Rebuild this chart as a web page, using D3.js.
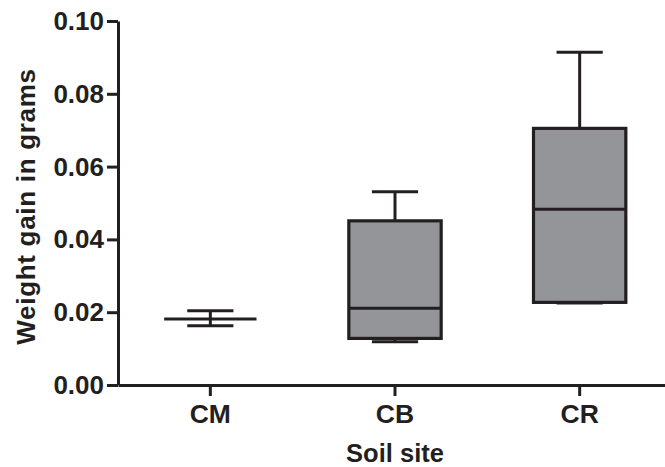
<!DOCTYPE html>
<html>
<head>
<meta charset="utf-8">
<script src="https://cdn.jsdelivr.net/npm/d3@7"></script>
<style>
  html, body { margin: 0; padding: 0; background: #fff; }
  svg { display: block; }
  text { font-family: "Liberation Sans", Arial, Helvetica, sans-serif; font-weight: bold; fill: #231f20; }
</style>
</head>
<body>
<svg id="chart" width="665" height="467"></svg>
<script>
// Weight gain per soil site (grams), five-number summaries
const sites   = ["CM", "CB", "CR"];
const mins    = [0.0163, 0.0119, 0.0225];
const q1s     = [0.0181, 0.0128, 0.0227];
const medians = [0.0181, 0.0211, 0.0483];
const q3s     = [0.0181, 0.0451, 0.0705];
const maxs    = [0.0204, 0.0531, 0.0914];
const yTicks  = [0.00, 0.02, 0.04, 0.06, 0.08, 0.10];

const ink = "#231f20";
const boxFill = "#939598";

const svg = d3.select("#chart");

const x = d3.scaleBand()
  .domain(sites)
  .range([118, 672])
  .paddingInner(0.5)
  .paddingOuter(0.25);

const y = d3.scaleLinear()
  .domain([0, 0.10])
  .range([385, 21]);

// y axis
const yAxis = svg.append("g")
  .attr("transform", "translate(118,0)")
  .call(d3.axisLeft(y).tickValues(yTicks).tickFormat(d3.format(".2f")).tickSize(11).tickSizeOuter(0).tickPadding(3));
yAxis.select(".domain").attr("stroke", ink).attr("stroke-width", 3);
yAxis.selectAll(".tick line").attr("stroke", ink).attr("stroke-width", 3);
yAxis.selectAll(".tick text")
  .attr("font-size", 26).attr("font-family", null).attr("fill", ink)
  .attr("dy", "0.33em");

// x axis
const xAxis = svg.append("g")
  .attr("transform", "translate(0,385)")
  .call(d3.axisBottom(x).tickSize(11).tickSizeOuter(0).tickPadding(8));
xAxis.select(".domain").attr("stroke", ink).attr("stroke-width", 3);
xAxis.selectAll(".tick line").attr("stroke", ink).attr("stroke-width", 3);
xAxis.selectAll(".tick text")
  .attr("font-size", 26.5).attr("font-family", null).attr("fill", ink)
  .attr("dy", "0.71em");

// boxes
const bw = x.bandwidth();
const capW = bw / 2;
const groups = svg.append("g").selectAll("g")
  .data(sites.map((s, i) => ({ s, min: mins[i], q1: q1s[i], med: medians[i], q3: q3s[i], max: maxs[i] })))
  .join("g")
  .attr("transform", d => `translate(${x(d.s) + bw / 2},0)`);

// whiskers
groups.append("line")
  .attr("x1", 0).attr("x2", 0)
  .attr("y1", d => y(d.max)).attr("y2", d => y(d.q3))
  .attr("stroke", ink).attr("stroke-width", 3);
groups.append("line")
  .attr("x1", 0).attr("x2", 0)
  .attr("y1", d => y(d.min)).attr("y2", d => y(d.q1))
  .attr("stroke", ink).attr("stroke-width", 3);
groups.append("line")
  .attr("x1", -capW / 2).attr("x2", capW / 2)
  .attr("y1", d => y(d.max)).attr("y2", d => y(d.max))
  .attr("stroke", ink).attr("stroke-width", 3);
groups.append("line")
  .attr("x1", -capW / 2).attr("x2", capW / 2)
  .attr("y1", d => y(d.min)).attr("y2", d => y(d.min))
  .attr("stroke", ink).attr("stroke-width", 3);

// box body
groups.append("rect")
  .attr("x", -bw / 2).attr("width", bw)
  .attr("y", d => y(d.q3)).attr("height", d => y(d.q1) - y(d.q3))
  .attr("fill", boxFill).attr("stroke", ink).attr("stroke-width", 3.2);

// median
groups.append("line")
  .attr("x1", -bw / 2).attr("x2", bw / 2)
  .attr("y1", d => y(d.med)).attr("y2", d => y(d.med))
  .attr("stroke", ink).attr("stroke-width", 3);

// axis titles
svg.append("text")
  .attr("x", 395).attr("y", 461.5)
  .attr("text-anchor", "middle").attr("font-size", 25.5)
  .text("Soil site");

svg.append("text")
  .attr("transform", "translate(35,206.5) rotate(-90)")
  .attr("text-anchor", "middle").attr("font-size", 26)
  .attr("letter-spacing", 0.7)
  .text("Weight gain in grams");
</script>
</body>
</html>
